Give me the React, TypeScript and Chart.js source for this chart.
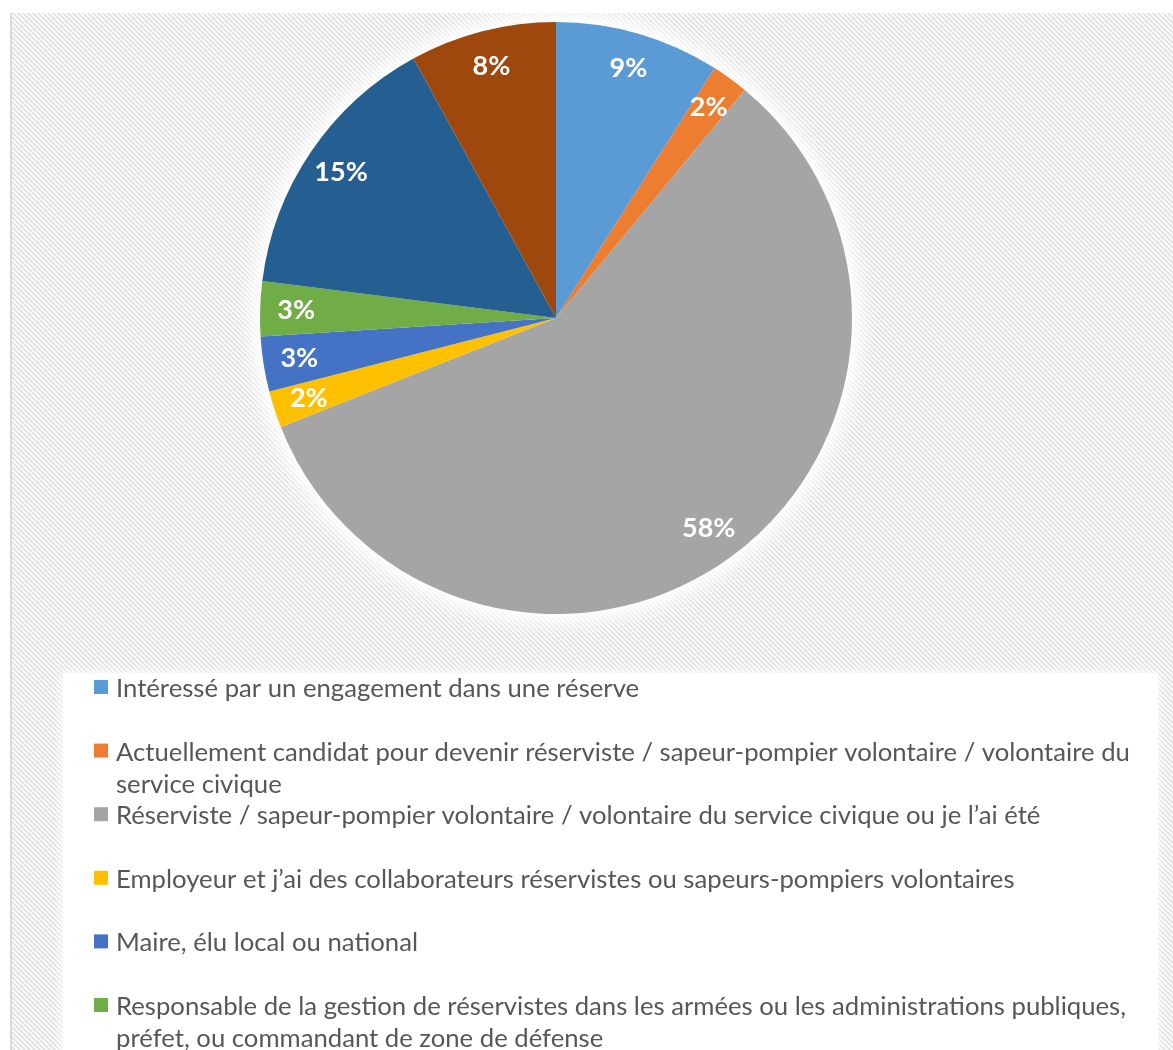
import React, { useEffect, useRef } from "react";
import { Chart, registerables } from "chart.js";

Chart.register(...registerables);

// ---- data ----
const categories: string[][] = [
  ["Intéressé par un engagement dans une réserve"],
  [
    "Actuellement candidat pour devenir réserviste / sapeur-pompier volontaire / volontaire du",
    "service civique",
  ],
  ["Réserviste / sapeur-pompier volontaire / volontaire du service civique ou je l’ai été"],
  ["Employeur et j’ai des collaborateurs réservistes ou sapeurs-pompiers volontaires"],
  ["Maire, élu local ou national"],
  [
    "Responsable de la gestion de réservistes dans les armées ou les administrations publiques,",
    "préfet, ou commandant de zone de défense",
  ],
  ["Autre"],
  ["Sans réponse"],
];
const shares: number[] = [9, 2, 58, 2, 3, 3, 15, 8];
const sliceColors: string[] = [
  "#5B9BD5",
  "#ED7D31",
  "#A5A5A5",
  "#FFC000",
  "#4472C4",
  "#70AD47",
  "#255E91",
  "#9E480E",
];

const W = 1173;
const H = 1050;
const FONT = "Lato, 'Open Sans', 'DejaVu Sans', sans-serif";

function makeHatch(ctx: CanvasRenderingContext2D) {
  const s = 5;
  const p = document.createElement("canvas");
  p.width = s;
  p.height = s;
  const pc = p.getContext("2d")!;
  pc.fillStyle = "#fbfbfb";
  pc.fillRect(0, 0, s, s);
  pc.strokeStyle = "#dcdcdc";
  pc.lineWidth = 1.4;
  pc.beginPath();
  pc.moveTo(-1, -1);
  pc.lineTo(s + 1, s + 1);
  pc.moveTo(-1, s - 1);
  pc.lineTo(1, s + 1);
  pc.moveTo(s - 1, -1);
  pc.lineTo(s + 1, 1);
  pc.stroke();
  return ctx.createPattern(p, "repeat")!;
}

const backgroundPlugin = {
  id: "bgFrame",
  beforeDraw(chart: any) {
    const ctx: CanvasRenderingContext2D = chart.ctx;
    ctx.save();
    ctx.fillStyle = "#ffffff";
    ctx.fillRect(0, 0, W, H);
    ctx.fillStyle = makeHatch(ctx);
    ctx.fillRect(12, 13, W - 12, H - 13);
    ctx.fillStyle = "#d9d9d9";
    ctx.fillRect(10, 13, 2, H - 13);
    // legend box
    ctx.shadowColor = "rgba(255,255,255,1)";
    ctx.shadowBlur = 10;
    ctx.fillStyle = "#ffffff";
    ctx.fillRect(63, 673, 1158 - 63, H - 673 + 20);
    ctx.restore();
  },
  beforeDatasetsDraw(chart: any) {
    const arc = chart.getDatasetMeta(0).data[0];
    if (!arc) return;
    const ctx: CanvasRenderingContext2D = chart.ctx;
    ctx.save();
    ctx.shadowColor = "rgba(255,255,255,1)";
    ctx.shadowBlur = 28;
    ctx.fillStyle = "#ffffff";
    for (let i = 0; i < 3; i++) {
      ctx.beginPath();
      ctx.arc(arc.x, arc.y, arc.outerRadius - 1, 0, Math.PI * 2);
      ctx.fill();
    }
    ctx.restore();
  },
  afterDatasetsDraw(chart: any) {
    const ctx: CanvasRenderingContext2D = chart.ctx;
    const data = chart.data.datasets[0].data as number[];
    const total = data.reduce((a, b) => a + b, 0);
    const meta = chart.getDatasetMeta(0);
    ctx.save();
    ctx.fillStyle = "#ffffff";
    ctx.font = `bold 27px ${FONT}`;
    ctx.textAlign = "center";
    ctx.textBaseline = "middle";
    meta.data.forEach((arc: any, i: number) => {
      const mid = (arc.startAngle + arc.endAngle) / 2;
      const r = arc.outerRadius * 0.878;
      const x = arc.x + Math.cos(mid) * r;
      const y = arc.y + Math.sin(mid) * r;
      ctx.fillText(Math.round((data[i] / total) * 100) + "%", x, y);
    });
    ctx.restore();
  },
  afterDraw(chart: any) {
    const ctx: CanvasRenderingContext2D = chart.ctx;
    const labels = chart.data.labels as string[][];
    const colors = chart.data.datasets[0].backgroundColor as string[];
    ctx.save();
    ctx.font = `24px ${FONT}`;
    const w = ctx.measureText(labels[1][0]).width;
    const size = (24 * 1014) / w;
    ctx.font = `${size}px ${FONT}`;
    ctx.textBaseline = "alphabetic";
    ctx.textAlign = "left";
    const base0 = 697;
    const step = 63.6;
    const lineH = 32;
    labels.forEach((lines, i) => {
      const b = base0 + i * step;
      ctx.fillStyle = colors[i];
      ctx.fillRect(94, b - 17, 14, 14);
      ctx.fillStyle = "#575757";
      lines.forEach((ln, j) => ctx.fillText(ln, 116, b + j * lineH));
    });
    ctx.restore();
  },
};

export default function App() {
  const ref = useRef<HTMLCanvasElement | null>(null);
  useEffect(() => {
    if (!ref.current) return;
    const chart = new Chart(ref.current, {
      type: "pie",
      data: {
        labels: categories as any,
        datasets: [
          {
            data: shares,
            backgroundColor: sliceColors,
            borderWidth: 0,
          },
        ],
      },
      options: {
        responsive: false,
        animation: false,
        layout: { padding: { left: 260, right: 321, top: 22, bottom: 436 } },
        plugins: { legend: { display: false }, tooltip: { enabled: false } },
      },
      plugins: [backgroundPlugin],
    });
    return () => chart.destroy();
  }, []);
  return (
    <div style={{ position: "absolute", left: 0, top: 0, width: W, height: H, overflow: "hidden", background: "#fff" }}>
      <canvas ref={ref} width={W} height={H} style={{ display: "block", width: W, height: H }} />
    </div>
  );
}
